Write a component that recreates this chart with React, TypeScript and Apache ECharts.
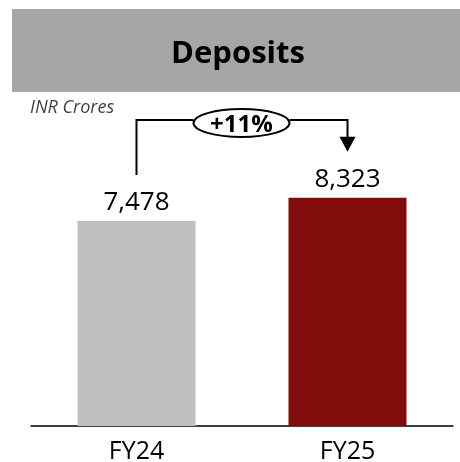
import React, { useEffect, useRef } from "react";
import * as echarts from "echarts";

const categories = ["FY24", "FY25"];
const values = [7478, 8323];
const barColors = ["#bfbfbf", "#800c0c"];
const titleText = "Deposits";
const unitText = "INR Crores";
const growthText = "+11%";

const FONT = "'Open Sans', Lato, 'Noto Sans', sans-serif";

export default function App() {
  const ref = useRef<HTMLDivElement>(null);
  useEffect(() => {
    if (!ref.current) return;
    const chart = echarts.init(ref.current, undefined, { renderer: "svg" });
    chart.setOption({
      animation: false,
      grid: { left: 31, right: 7, top: 97, bottom: 36, containLabel: false },
      xAxis: {
        type: "category",
        data: categories,
        axisLine: { lineStyle: { color: "#000", width: 1.5 } },
        axisTick: { show: false },
        axisLabel: { color: "#000", fontSize: 25, fontFamily: FONT, margin: 12, lineHeight: 22 },
      },
      yAxis: { type: "value", min: 0, max: 12000, show: false, splitLine: { show: false } },
      series: [
        {
          type: "bar",
          barWidth: 118,
          data: values.map((v, i) => ({ value: v, itemStyle: { color: barColors[i] } })),
          label: {
            show: true,
            position: "top",
            distance: 8,
            color: "#000",
            fontSize: 26,
            fontFamily: FONT,
            formatter: (p: any) => Number(p.value).toLocaleString("en-US"),
          },
        },
      ],
    });

    const p0 = chart.convertToPixel({ gridIndex: 0 }, [0, values[0]]) as number[];
    const p1 = chart.convertToPixel({ gridIndex: 0 }, [1, values[1]]) as number[];
    const lineY = 120;
    const off = 46;
    const ellCx = 241.5;
    const ellRx = 48;
    const ellRy = 14;
    const stroke = { stroke: "#000", lineWidth: 2 };
    const leftX = p0[0];
    const rightX = p1[0];
    const leftBottom = p0[1] - off;
    const arrowTip = p1[1] - off;

    chart.setOption({
      graphic: [
        { type: "rect", shape: { x: 12, y: 9, width: 448, height: 83 }, style: { fill: "#a6a6a6" }, z: 0 },
        {
          type: "text",
          x: 238,
          y: 51,
          style: { text: titleText, fill: "#000", font: `bold 31px ${FONT}`, align: "center", verticalAlign: "middle" },
        },
        {
          type: "text",
          x: 30,
          y: 106,
          style: { text: unitText, fill: "#404040", font: `italic 18px ${FONT}`, align: "left", verticalAlign: "middle" },
        },
        { type: "polyline", shape: { points: [[leftX, leftBottom], [leftX, lineY], [ellCx - ellRx, lineY]] }, style: { ...stroke, fill: null } },
        { type: "polyline", shape: { points: [[ellCx + ellRx, lineY], [rightX, lineY], [rightX, arrowTip - 14]] }, style: { ...stroke, fill: null } },
        { type: "polygon", shape: { points: [[rightX - 8, arrowTip - 15], [rightX + 8, arrowTip - 15], [rightX, arrowTip]] }, style: { fill: "#000" } },
        { type: "ellipse", shape: { cx: ellCx, cy: 123, rx: ellRx, ry: ellRy }, style: { fill: "#fff", stroke: "#000", lineWidth: 2 } },
        {
          type: "text",
          x: ellCx,
          y: 122,
          style: { text: growthText, fill: "#000", font: `bold 24px ${FONT}`, align: "center", verticalAlign: "middle" },
          z: 10,
        },
      ],
    });
    return () => chart.dispose();
  }, []);
  return <div ref={ref} style={{ position: "fixed", left: 0, top: 0, width: 460, height: 462 }} />;
}
